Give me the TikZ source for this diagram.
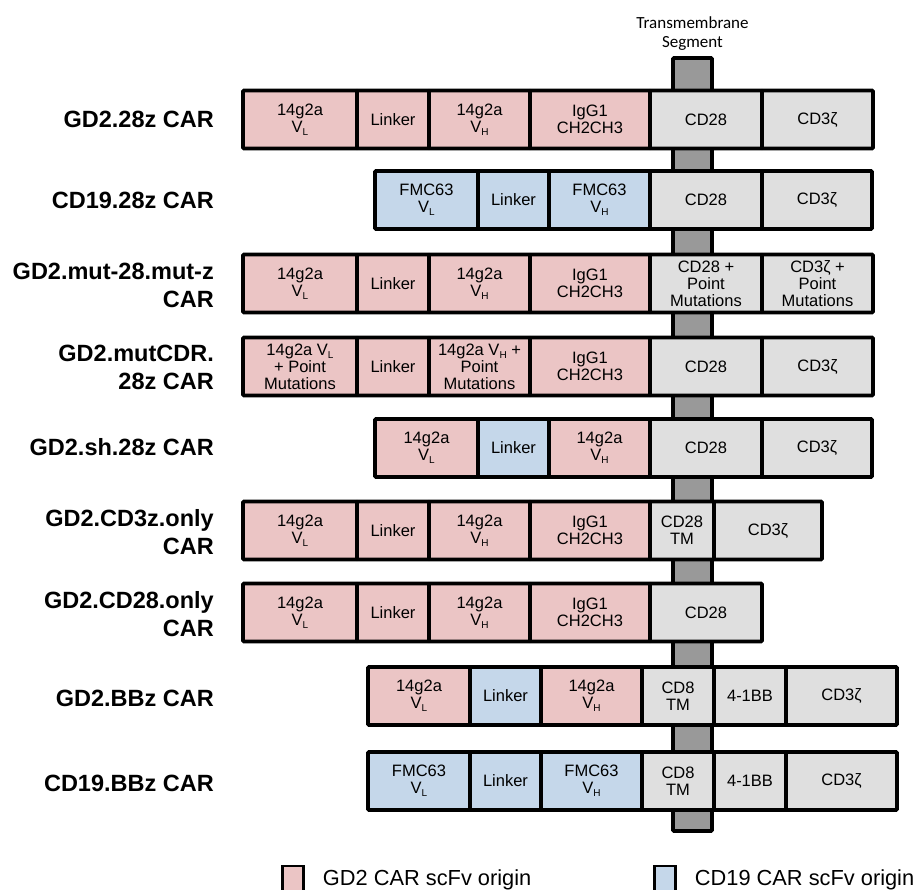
\documentclass[tikz,border=0pt]{standalone}
\usepackage{fontspec}
\usetikzlibrary{positioning}
\usepackage{xcolor}

\newfontfamily\arialfont{Liberation Sans}
\newfontfamily\calfont{Carlito}
\definecolor{gdpink}{RGB}{235,197,197}
\definecolor{cdblue}{RGB}{197,215,234}
\definecolor{siggray}{RGB}{223,223,223}
\definecolor{tmgray}{RGB}{153,153,153}
\newcommand{\segfont}{\arialfont\fontsize{16.5}{17}\selectfont}
\newcommand{\carfont}{\arialfont\bfseries\fontsize{23.5}{28}\selectfont}
\newcommand{\keyfont}{\arialfont\fontsize{21.8}{24}\selectfont}
\newcommand{\subtxt}[1]{\raisebox{-0.35ex}{\fontsize{10}{10}\selectfont #1}}

\begin{document}
\begin{tikzpicture}[x=1pt, y=-1pt]
        % ================= styles =================
        \tikzset{
            % one segment of a CAR construct
            seg/.style={draw=black, line width=3.8pt, outer sep=0pt, inner sep=1pt,
                minimum height=58pt, align=center, font=\segfont, rounded corners=1pt},
            gd2/.style={seg, fill=gdpink},
            cd19/.style={seg, fill=cdblue},
            sig/.style={seg, fill=siggray},
            % name of a construct, on the left
            carlabel/.style={anchor=east, align=right, font=\carfont, inner sep=0pt},
            % transmembrane bar behind the rows
            tmbar/.style={draw=black, line width=3.8pt, fill=tmgray, outer sep=0pt,
                minimum width=39pt, minimum height=773pt, rounded corners=1pt},
            keybox/.style={draw=black, line width=2.5pt, minimum width=21pt, minimum height=28pt}
        }

        \useasboundingbox (0,0) rectangle (918,890);

        % ================= transmembrane segment =================
        % drawn first, so the rows cover it
        \node[tmbar] (tm) at (692.5,444.5) {};
        \node[above=7pt of tm, align=center, inner sep=0pt,
            font=\calfont\fontsize{17}{19}\selectfont] (tmlabel) {Transmembrane\\Segment};

        % ================= GD2.28z CAR =================
        \node[carlabel] (l1) at (214,119.5) {GD2.28z CAR};
        \node[gd2, anchor=west, minimum width=114pt] (r1vl) at (243,119.5) {14g2a\\V\subtxt{L}};
        \node[gd2, right=0pt of r1vl, minimum width=72pt] (r1lnk) {Linker};
        \node[gd2, right=0pt of r1lnk, minimum width=101pt] (r1vh) {14g2a\\V\subtxt{H}};
        \node[gd2, right=0pt of r1vh, minimum width=120pt] (r1fc) {IgG1\\CH2CH3};
        \node[sig, right=0pt of r1fc, minimum width=112pt] (r1cost) {CD28};
        \node[sig, right=0pt of r1cost, minimum width=111pt] (r1zeta) {CD3ζ};

        % ================= CD19.28z CAR =================
        \node[carlabel] (l2) at (214,200) {CD19.28z CAR};
        \node[cd19, anchor=west, minimum width=103pt] (r2vl) at (375,200) {FMC63\\V\subtxt{L}};
        \node[cd19, right=0pt of r2vl, minimum width=71pt] (r2lnk) {Linker};
        \node[cd19, right=0pt of r2lnk, minimum width=101pt] (r2vh) {FMC63\\V\subtxt{H}};
        \node[sig, right=0pt of r2vh, minimum width=112pt] (r2cost) {CD28};
        \node[sig, right=0pt of r2cost, minimum width=110pt] (r2zeta) {CD3ζ};

        % ================= GD2.mut-28.mut-z CAR =================
        \node[carlabel] (l3) at (214,285) {GD2.mut-28.mut-z\\CAR};
        \node[gd2, anchor=west, minimum width=114pt] (r3vl) at (243,283.5) {14g2a\\V\subtxt{L}};
        \node[gd2, right=0pt of r3vl, minimum width=72pt] (r3lnk) {Linker};
        \node[gd2, right=0pt of r3lnk, minimum width=101pt] (r3vh) {14g2a\\V\subtxt{H}};
        \node[gd2, right=0pt of r3vh, minimum width=120pt] (r3fc) {IgG1\\CH2CH3};
        \node[sig, right=0pt of r3fc, minimum width=112pt] (r3cost) {CD28 +\\Point\\Mutations};
        \node[sig, right=0pt of r3cost, minimum width=111pt] (r3zeta) {CD3ζ +\\Point\\Mutations};

        % ================= GD2.mutCDR.28z CAR =================
        \node[carlabel] (l4) at (214,367) {GD2.mutCDR.\\28z CAR};
        \node[gd2, anchor=west, minimum width=114pt] (r4vl) at (243,366.5) {14g2a V\subtxt{L}\\+ Point\\Mutations};
        \node[gd2, right=0pt of r4vl, minimum width=72pt] (r4lnk) {Linker};
        \node[gd2, right=0pt of r4lnk, minimum width=101pt] (r4vh) {14g2a V\subtxt{H} +\\Point\\Mutations};
        \node[gd2, right=0pt of r4vh, minimum width=120pt] (r4fc) {IgG1\\CH2CH3};
        \node[sig, right=0pt of r4fc, minimum width=112pt] (r4cost) {CD28};
        \node[sig, right=0pt of r4cost, minimum width=111pt] (r4zeta) {CD3ζ};

        % ================= GD2.sh.28z CAR =================
        % short form: CD19 linker, no hinge
        \node[carlabel] (l5) at (214,447) {GD2.sh.28z CAR};
        \node[gd2, anchor=west, minimum width=103pt] (r5vl) at (375,448) {14g2a\\V\subtxt{L}};
        \node[cd19, right=0pt of r5vl, minimum width=71pt] (r5lnk) {Linker};
        \node[gd2, right=0pt of r5lnk, minimum width=101pt] (r5vh) {14g2a\\V\subtxt{H}};
        \node[sig, right=0pt of r5vh, minimum width=112pt] (r5cost) {CD28};
        \node[sig, right=0pt of r5cost, minimum width=110pt] (r5zeta) {CD3ζ};

        % ================= GD2.CD3z.only CAR =================
        \node[carlabel] (l6) at (214,532) {GD2.CD3z.only\\CAR};
        \node[gd2, anchor=west, minimum width=114pt] (r6vl) at (243,530.5) {14g2a\\V\subtxt{L}};
        \node[gd2, right=0pt of r6vl, minimum width=72pt] (r6lnk) {Linker};
        \node[gd2, right=0pt of r6lnk, minimum width=101pt] (r6vh) {14g2a\\V\subtxt{H}};
        \node[gd2, right=0pt of r6vh, minimum width=120pt] (r6fc) {IgG1\\CH2CH3};
        \node[sig, right=0pt of r6fc, minimum width=64pt] (r6tm) {CD28\\TM};
        \node[sig, right=0pt of r6tm, minimum width=108pt] (r6zeta) {CD3ζ};

        % ================= GD2.CD28.only CAR =================
        \node[carlabel] (l7) at (214,614) {GD2.CD28.only\\CAR};
        \node[gd2, anchor=west, minimum width=114pt] (r7vl) at (243,612.5) {14g2a\\V\subtxt{L}};
        \node[gd2, right=0pt of r7vl, minimum width=72pt] (r7lnk) {Linker};
        \node[gd2, right=0pt of r7lnk, minimum width=101pt] (r7vh) {14g2a\\V\subtxt{H}};
        \node[gd2, right=0pt of r7vh, minimum width=120pt] (r7fc) {IgG1\\CH2CH3};
        \node[sig, right=0pt of r7fc, minimum width=112pt] (r7cost) {CD28};

        % ================= GD2.BBz CAR =================
        \node[carlabel] (l8) at (214,698) {GD2.BBz CAR};
        \node[gd2, anchor=west, minimum width=102pt] (r8vl) at (368,696) {14g2a\\V\subtxt{L}};
        \node[cd19, right=0pt of r8vl, minimum width=71pt] (r8lnk) {Linker};
        \node[gd2, right=0pt of r8lnk, minimum width=101pt] (r8vh) {14g2a\\V\subtxt{H}};
        \node[sig, right=0pt of r8vh, minimum width=72pt] (r8tm) {CD8\\TM};
        \node[sig, right=0pt of r8tm, minimum width=72pt] (r8cost) {4-1BB};
        \node[sig, right=0pt of r8cost, minimum width=111pt] (r8zeta) {CD3ζ};

        % ================= CD19.BBz CAR =================
        \node[carlabel] (l9) at (214,783) {CD19.BBz CAR};
        \node[cd19, anchor=west, minimum width=102pt] (r9vl) at (368,781) {FMC63\\V\subtxt{L}};
        \node[cd19, right=0pt of r9vl, minimum width=71pt] (r9lnk) {Linker};
        \node[cd19, right=0pt of r9lnk, minimum width=101pt] (r9vh) {FMC63\\V\subtxt{H}};
        \node[sig, right=0pt of r9vh, minimum width=72pt] (r9tm) {CD8\\TM};
        \node[sig, right=0pt of r9tm, minimum width=72pt] (r9cost) {4-1BB};
        \node[sig, right=0pt of r9cost, minimum width=111pt] (r9zeta) {CD3ζ};

        % ================= legend =================
        \node[keybox, fill=gdpink] (keygd2) at (293,880) {};
        \node[right=18pt of keygd2, font=\keyfont, inner sep=0pt] (keygd2txt) {GD2 CAR scFv origin};
        \node[keybox, fill=cdblue] (keycd19) at (665,880) {};
        \node[right=18pt of keycd19, font=\keyfont, inner sep=0pt] (keycd19txt) {CD19 CAR scFv origin};

    \end{tikzpicture}
\end{document}
